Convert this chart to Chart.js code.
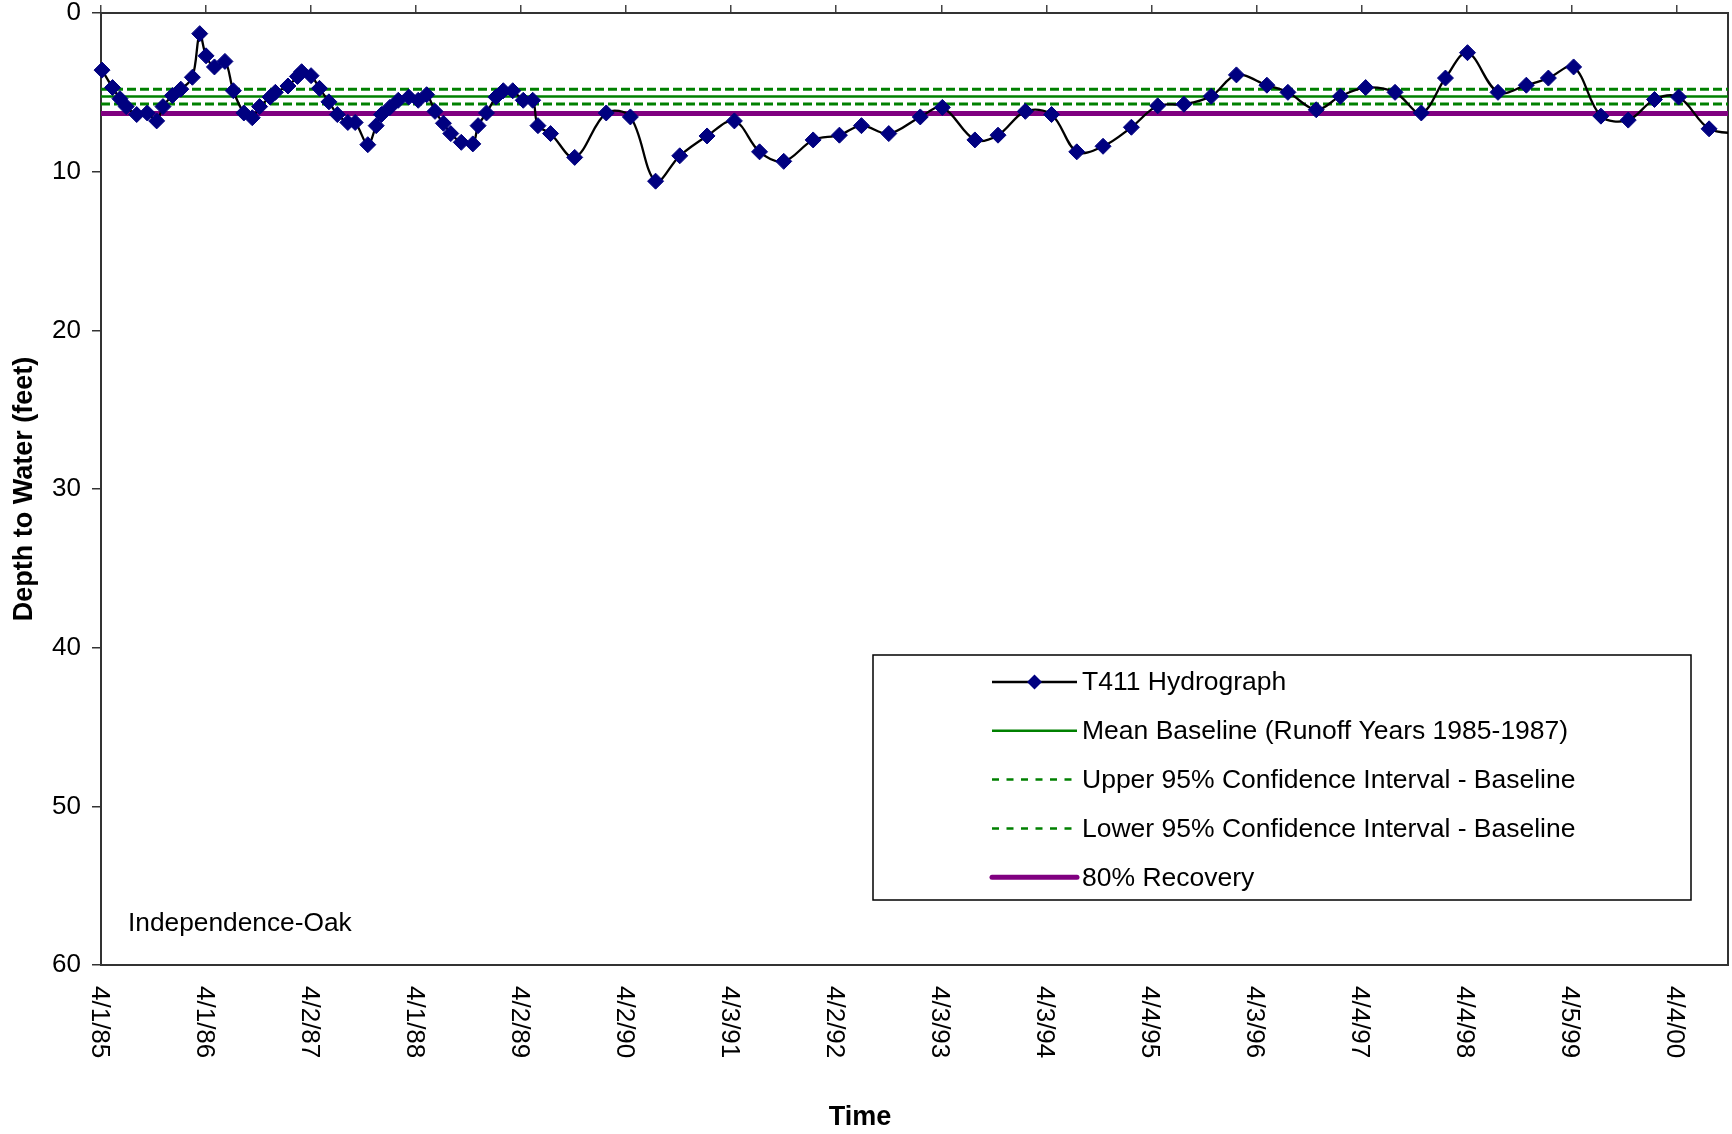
<!DOCTYPE html>
<html>
<head>
<meta charset="utf-8">
<title>T411 Hydrograph - Independence-Oak</title>
<script src="https://cdn.jsdelivr.net/npm/chart.js@4.4.1/dist/chart.umd.min.js"></script>
<style>
    html, body { margin: 0; padding: 0; background: #fff; }
    #chartWrap { width: 1732px; height: 1134px; }
</style>
</head>
<body>
<div id="chartWrap"><canvas id="hydroChart" width="1732" height="1134"></canvas></div>
<script>
// sample dates as decimal years, depth to water in feet
const sampleYears = [
    1985.26, 1985.36, 1985.43, 1985.49, 1985.59, 1985.69, 1985.78, 1985.84, 1985.93, 1986.01,
    1986.12, 1986.19, 1986.25, 1986.33, 1986.43, 1986.51, 1986.61, 1986.69, 1986.76, 1986.86,
    1986.91, 1987.03, 1987.12, 1987.16, 1987.25, 1987.33, 1987.42, 1987.50, 1987.60, 1987.67,
    1987.79, 1987.87, 1987.92, 1988.00, 1988.08, 1988.18, 1988.27, 1988.35, 1988.43, 1988.51,
    1988.58, 1988.68, 1988.79, 1988.84, 1988.92, 1989.01, 1989.08, 1989.17, 1989.27, 1989.36,
    1989.41, 1989.53, 1989.76, 1990.06, 1990.29, 1990.53, 1990.76, 1991.02, 1991.28, 1991.52,
    1991.75, 1992.03, 1992.28, 1992.49, 1992.75, 1993.05, 1993.26, 1993.57, 1993.79, 1994.05,
    1994.30, 1994.54, 1994.79, 1995.06, 1995.31, 1995.56, 1995.82, 1996.06, 1996.35, 1996.55,
    1996.82, 1997.05, 1997.29, 1997.57, 1997.82, 1998.05, 1998.26, 1998.55, 1998.82, 1999.03,
    1999.27, 1999.53, 1999.79, 2000.04, 2000.27, 2000.56, 2000.85
];
const depthToWater = [
    3.6, 4.7, 5.4, 5.9, 6.4, 6.3, 6.8, 5.9, 5.2, 4.8,
    4.05, 1.3, 2.7, 3.4, 3.05, 4.9, 6.3, 6.6, 5.9, 5.3,
    5.0, 4.6, 4.0, 3.7, 3.95, 4.75, 5.6, 6.4, 6.9, 6.9,
    8.3, 7.1, 6.4, 5.95, 5.5, 5.3, 5.5, 5.15, 6.2, 6.95,
    7.6, 8.15, 8.25, 7.1, 6.3, 5.3, 4.9, 4.9, 5.5, 5.5,
    7.1, 7.6, 9.1, 6.3, 6.55, 10.6, 9.0, 7.75, 6.8, 8.75,
    9.35, 8.0, 7.7, 7.1, 7.6, 6.55, 5.95, 8.0, 7.7, 6.2,
    6.4, 8.75, 8.4, 7.2, 5.85, 5.75, 5.25, 3.9, 4.55, 5.0,
    6.1, 5.25, 4.7, 5.0, 6.3, 4.1, 2.5, 5.0, 4.55, 4.1,
    3.4, 6.5, 6.75, 5.45, 5.3, 7.3, 7.6
];

const meanBaseline = 5.27;
const upperCI = 4.80;
const lowerCI = 5.73;
const recovery80 = 6.34;

const tickYears = [
    1985.25, 1986.25, 1987.25, 1988.25, 1989.25, 1990.25, 1991.25, 1992.25,
    1993.25, 1994.25, 1995.25, 1996.25, 1997.25, 1998.25, 1999.25, 2000.25
];
const tickLabels = [
    '4/1/85', '4/1/86', '4/2/87', '4/1/88', '4/2/89', '4/2/90', '4/3/91', '4/2/92',
    '4/3/93', '4/3/94', '4/4/95', '4/3/96', '4/4/97', '4/4/98', '4/5/99', '4/4/00'
];
const depthTicks = [0, 10, 20, 30, 40, 50, 60];

const xMin = 1985.25;
const xMax = 2000.74;

const FONT = '"Liberation Sans", Arial, Helvetica, sans-serif';
Chart.defaults.font.family = FONT;
Chart.defaults.color = '#000';

function flatLine(value) {
    return [{ x: xMin, y: value }, { x: xMax, y: value }];
}

// plot frame (bottom and right edges)
const plotFrame = {
    id: 'plotFrame',
    beforeDatasetsDraw(chart) {
        const { ctx, chartArea } = chart;
        ctx.save();
        ctx.strokeStyle = '#333';
        ctx.lineWidth = 2;
        ctx.strokeRect(chartArea.left, chartArea.top, chartArea.width, chartArea.height);
        ctx.restore();
    }
};

// date labels under the plot, rotated to read downwards, plus the "Time" title
const dateLabels = {
    id: 'dateLabels',
    afterDraw(chart) {
        const { ctx, chartArea, scales } = chart;
        ctx.save();
        ctx.fillStyle = '#000';
        ctx.font = '26px ' + FONT;
        ctx.textAlign = 'left';
        ctx.textBaseline = 'middle';
        tickYears.forEach((yr, i) => {
            const px = scales.x.getPixelForValue(yr);
            ctx.save();
            ctx.translate(px - 2, chartArea.bottom + 21);
            ctx.rotate(Math.PI / 2);
            ctx.fillText(tickLabels[i], 0, 0);
            ctx.restore();
        });
        ctx.font = 'bold 27px ' + FONT;
        ctx.textAlign = 'center';
        ctx.fillText('Time', chartArea.left + chartArea.width * 0.4665, chartArea.bottom + 153);

        ctx.font = '26.3px ' + FONT;
        ctx.textAlign = 'left';
        ctx.fillText('Independence-Oak', chartArea.left + 27, chartArea.bottom - 41);
        ctx.restore();
    }
};

// boxed legend inside the plot area
const boxLegend = {
    id: 'boxLegend',
    afterDraw(chart) {
        const { ctx, chartArea } = chart;
        const left = chartArea.left + 772;
        const top = chartArea.top + 642;
        const width = 818;
        const height = 245;
        const rowStart = top + 27;
        const rowGap = 48.8;
        const lineX1 = left + 119;
        const lineX2 = left + 204;
        const textX = left + 209;

        ctx.save();
        ctx.fillStyle = '#fff';
        ctx.fillRect(left, top, width, height);
        ctx.strokeStyle = '#000';
        ctx.lineWidth = 1.5;
        ctx.strokeRect(left, top, width, height);

        chart.data.datasets.forEach((ds, i) => {
            const y = rowStart + i * rowGap;
            ctx.save();
            ctx.strokeStyle = ds.borderColor;
            ctx.lineWidth = ds.legendWidth || ds.borderWidth;
            ctx.lineCap = ds.legendCap || 'butt';
            ctx.setLineDash(ds.legendDash || []);
            ctx.beginPath();
            ctx.moveTo(lineX1, y);
            ctx.lineTo(lineX2, y);
            ctx.stroke();
            ctx.restore();

            if (ds.pointRadius > 0) {
                const cx = (lineX1 + lineX2) / 2;
                const r = 7.5;
                ctx.fillStyle = ds.pointBackgroundColor;
                ctx.beginPath();
                ctx.moveTo(cx, y - r);
                ctx.lineTo(cx + r, y);
                ctx.lineTo(cx, y + r);
                ctx.lineTo(cx - r, y);
                ctx.closePath();
                ctx.fill();
            }

            ctx.fillStyle = '#000';
            ctx.font = '26.5px ' + FONT;
            ctx.textAlign = 'left';
            ctx.textBaseline = 'middle';
            ctx.fillText(ds.label, textX, y + 1);
        });
        ctx.restore();
    }
};

const ctx = document.getElementById('hydroChart').getContext('2d');

new Chart(ctx, {
    type: 'line',
    data: {
        datasets: [
            {
                label: 'T411 Hydrograph',
                data: sampleYears.map((yr, i) => ({ x: yr, y: depthToWater[i] })),
                borderColor: '#000',
                borderWidth: 2.3,
                tension: 0.35,
                pointStyle: 'rectRot',
                pointRadius: 8,
                pointBackgroundColor: '#000080',
                pointBorderColor: '#000080',
                pointBorderWidth: 1,
                clip: { left: 12, top: 12, right: 0, bottom: 12 }
            },
            {
                label: 'Mean Baseline (Runoff Years 1985-1987)',
                data: flatLine(meanBaseline),
                borderColor: '#008000',
                borderWidth: 2.5,
                pointRadius: 0,
                legendWidth: 2.5
            },
            {
                label: 'Upper 95% Confidence Interval - Baseline',
                data: flatLine(upperCI),
                borderColor: '#008000',
                borderWidth: 3,
                borderDash: [9, 4],
                pointRadius: 0,
                legendWidth: 2.5,
                legendDash: [7, 7.5]
            },
            {
                label: 'Lower 95% Confidence Interval - Baseline',
                data: flatLine(lowerCI),
                borderColor: '#008000',
                borderWidth: 3,
                borderDash: [9, 4],
                pointRadius: 0,
                legendWidth: 2.5,
                legendDash: [7, 7.5]
            },
            {
                label: '80% Recovery',
                data: flatLine(recovery80),
                borderColor: '#800080',
                borderWidth: 5,
                pointRadius: 0,
                legendWidth: 5,
                legendCap: 'round'
            }
        ]
    },
    options: {
        responsive: false,
        animation: false,
        events: [],
        layout: {
            autoPadding: false,
            padding: { left: 0, right: 4, top: 0, bottom: 169 }
        },
        plugins: {
            legend: { display: false },
            tooltip: { enabled: false }
        },
        scales: {
            x: {
                type: 'linear',
                position: 'top',
                min: xMin,
                max: xMax,
                bounds: 'data',
                afterBuildTicks: axis => {
                    axis.ticks = tickYears.map(v => ({ value: v }));
                },
                afterFit: axis => {
                    axis.height = 13;
                    axis.paddingLeft = 0;
                    axis.paddingRight = 0;
                },
                ticks: { display: false },
                grid: {
                    drawOnChartArea: false,
                    tickLength: 8,
                    color: '#444',
                    lineWidth: 1.5
                },
                border: { color: '#000', width: 2 }
            },
            y: {
                reverse: true,
                min: 0,
                max: 60,
                afterBuildTicks: axis => {
                    axis.ticks = depthTicks.map(v => ({ value: v }));
                },
                afterFit: axis => {
                    axis.width = 101;
                    axis.paddingTop = 0;
                    axis.paddingBottom = 0;
                },
                ticks: {
                    font: { size: 26 },
                    color: '#000',
                    padding: 11
                },
                grid: {
                    drawOnChartArea: false,
                    tickLength: 9,
                    color: '#333',
                    lineWidth: 1.5
                },
                border: { color: '#000', width: 2 },
                title: {
                    display: true,
                    text: 'Depth to Water (feet)',
                    color: '#000',
                    font: { size: 27, weight: 'bold' },
                    padding: { top: 8, bottom: 0 }
                }
            }
        }
    },
    plugins: [plotFrame, dateLabels, boxLegend]
});
</script>
</body>
</html>
